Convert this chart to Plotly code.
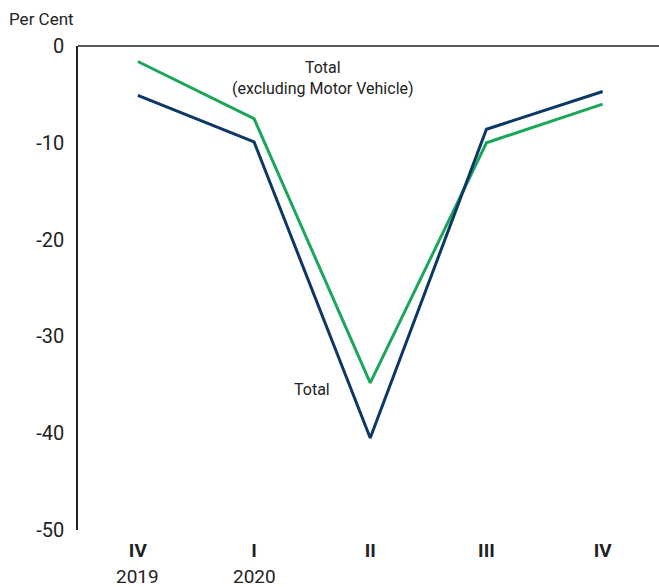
import plotly.graph_objects as go

quarters = ["IV", "I", "II", "III", "IV"]
years = ["2019", "2020", "", "", ""]
total = [-5.1, -9.9, -40.5, -8.6, -4.7]
total_ex_mv = [-1.6, -7.5, -34.8, -10.0, -6.0]
y_ticks = [0, -10, -20, -30, -40, -50]

x = list(range(len(quarters)))
ticktext = [f"<b>{q}</b>" for q in quarters]

fig = go.Figure()
fig.add_trace(go.Scatter(x=x, y=total_ex_mv, mode="lines",
                         line=dict(color="#1ca65a", width=3), name="Total (excluding Motor Vehicle)"))
fig.add_trace(go.Scatter(x=x, y=total, mode="lines",
                         line=dict(color="#0b3864", width=3), name="Total"))

annotations = [
    dict(text="Per Cent", xref="paper", yref="paper", x=-0.122, y=1.056,
         xanchor="left", yanchor="middle", showarrow=False, font=dict(size=17, color="#222")),
    dict(text="Total<br>(excluding Motor Vehicle)", xref="x", yref="y", x=1.59, y=-3.3,
         showarrow=False, font=dict(size=16, color="#222")),
    dict(text="Total", xref="x", yref="y", x=1.5, y=-35.5,
         showarrow=False, font=dict(size=16, color="#222")),
]
for xi, yr in zip(x, years):
    if yr:
        annotations.append(dict(text=yr, xref="x", yref="paper", x=xi, y=0, yshift=-46,
                                xanchor="center", yanchor="middle", showarrow=False,
                                font=dict(size=19, color="#222")))

fig.update_layout(
    width=659, height=587,
    margin=dict(l=78, r=0, t=46, b=57),
    paper_bgcolor="white", plot_bgcolor="white",
    showlegend=False,
    font=dict(family="Roboto", color="#222"),
    xaxis=dict(range=[-0.515, 4.485], tickmode="array", tickvals=x, ticktext=ticktext,
               showgrid=False, zeroline=False, showline=False, automargin=False,
               ticks="outside", ticklen=3, tickcolor="rgba(0,0,0,0)",
               tickfont=dict(size=19, color="#222")),
    yaxis=dict(range=[-50, 0], tickmode="array", tickvals=y_ticks,
               ticktext=[str(v) for v in y_ticks], automargin=False,
               showgrid=False, zeroline=False, showline=True, linecolor="#222", linewidth=1.5,
               ticks="outside", ticklen=8, tickcolor="rgba(0,0,0,0)",
               tickfont=dict(size=20, color="#222")),
    shapes=[dict(type="line", xref="paper", yref="paper", x0=0, x1=1, y0=1, y1=1,
                 line=dict(color="#222", width=1.5))],
    annotations=annotations,
)

fig.write_html("out.html", config={"displayModeBar": False},
               post_script="document.body.style.margin='0px';document.body.style.overflow='hidden';")
